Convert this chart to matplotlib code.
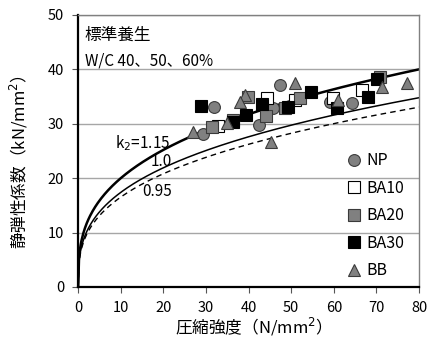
import numpy as np
import matplotlib
matplotlib.use("Agg")
import matplotlib.pyplot as plt
import matplotlib.ticker as tkr

plt.rcParams['font.family'] = ['Noto Sans CJK JP', 'DejaVu Sans']

# measured data (compressive strength, Young's modulus)
np_x = [31.9, 47.4, 45.7, 59.1, 64.3, 29.3, 42.5]
np_y = [33.1, 37.1, 32.9, 34.0, 33.8, 28.2, 29.8]
ba10_x = [32.8, 44.3, 50.8, 59.8, 66.6]
ba10_y = [29.6, 34.7, 34.4, 34.7, 36.2]
ba20_x = [39.9, 48.6, 52.1, 70.9, 31.4, 36.4, 44.1]
ba20_y = [34.9, 32.9, 34.8, 38.6, 29.4, 30.7, 31.4]
ba30_x = [28.9, 43.2, 49.3, 54.7, 60.8, 68.0, 70.1, 36.4, 39.4]
ba30_y = [33.3, 33.6, 33.1, 35.8, 32.9, 34.9, 38.2, 30.4, 31.6]
bb_x = [50.9, 39.2, 38.0, 61.0, 71.3, 77.2, 27.0, 35.0, 45.3]
bb_y = [37.5, 35.3, 34.0, 34.4, 36.7, 37.5, 28.5, 30.1, 26.7]

# estimation curves E = k2 * E60 * (Fc/60)^(1/3)
k2_values = [1.15, 1.0, 0.95]
E60 = 31.6

figure = plt.figure(figsize=(4.32, 3.47), dpi=100)
axis = figure.add_axes([0.181, 0.173, 0.789, 0.784])

fc = np.linspace(0, 80, 400)
styles = [dict(color='k', lw=1.8, ls='-'),
          dict(color='k', lw=1.1, ls='-'),
          dict(color='k', lw=1.0, ls=(0, (4, 3)))]
for k2, st in zip(k2_values, styles):
    axis.plot(fc, k2 * E60 * (fc / 60) ** (1 / 3), zorder=2, **st)

gray = '#808080'
edge = '#3a3a3a'
axis.plot(np_x, np_y, ls='none', marker='o', ms=8.5, mfc=gray, mec=edge, mew=0.8, label='NP', zorder=3)
axis.plot(ba10_x, ba10_y, ls='none', marker='s', ms=8, mfc='white', mec='k', mew=0.8, label='BA10', zorder=3)
axis.plot(ba20_x, ba20_y, ls='none', marker='s', ms=8, mfc=gray, mec=edge, mew=0.8, label='BA20', zorder=3)
axis.plot(ba30_x, ba30_y, ls='none', marker='s', ms=8, mfc='k', mec='k', mew=0.8, label='BA30', zorder=3)
axis.plot(bb_x, bb_y, ls='none', marker='^', ms=9, mfc=gray, mec=edge, mew=0.8, label='BB', zorder=3)

axis.set_xlim(0, 80)
axis.set_ylim(0, 50)
axis.xaxis.set_major_locator(tkr.MultipleLocator(10))
axis.yaxis.set_major_locator(tkr.MultipleLocator(10))
axis.tick_params(direction='out', length=4, width=0.8, color='#555555', labelsize=10.5)
axis.tick_params(axis='x', pad=6)
axis.tick_params(axis='y', pad=6)
axis.grid(axis='y', color='#a6a6a6', lw=1.0)
axis.set_axisbelow(True)

for s in ['left', 'bottom']:
    axis.spines[s].set_color('k')
    axis.spines[s].set_linewidth(1.6)
for s in ['top', 'right']:
    axis.spines[s].set_color('#808080')
    axis.spines[s].set_linewidth(1.0)

axis.set_xlabel('圧縮強度（N/mm$^2$）', fontsize=12, labelpad=1)
axis.set_ylabel('静弾性係数（kN/mm$^2$）', fontsize=12)
axis.yaxis.set_label_coords(-0.14, 0.46)

axis.text(1.5, 46.2, '標準養生', fontsize=12, va='center')
axis.text(1.5, 41.6, 'W/C 40、50、60%', fontsize=11, va='center')
axis.text(8.7, 26.5, 'k$_2$=1.15', fontsize=11, va='center')
axis.text(17, 23.0, '1.0', fontsize=11, va='center')
axis.text(15, 17.6, '0.95', fontsize=11, va='center')

axis.legend(loc='upper left', bbox_to_anchor=(0.765, 0.525), frameon=False,
            fontsize=11.5, handlelength=0.9, handletextpad=0.3,
            labelspacing=0.66, borderpad=0)

figure.savefig('out.png', dpi=100)
